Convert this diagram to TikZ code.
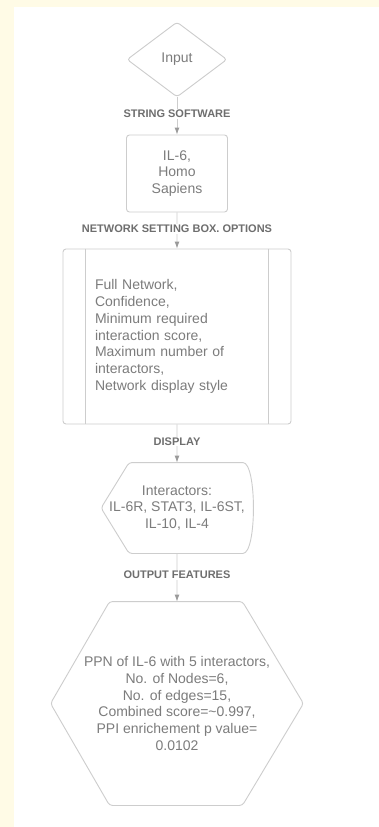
\documentclass[tikz,border=0pt]{standalone}
\usepackage{fontspec}
\setmainfont{Liberation Sans}
\usetikzlibrary{arrows.meta,shapes.geometric}
\definecolor{cream}{HTML}{FFFBE6}
\definecolor{linegray}{HTML}{CDCDCD}
\definecolor{textgray}{HTML}{7C7C7C}
\definecolor{labelgray}{HTML}{6E6E6E}
\definecolor{tipgray}{HTML}{9A9A9A}
\tikzset{%
flowbox/.style={draw=linegray,line width=0.9pt,rounded corners=3pt,font=\fontsize{14}{16.8}\selectfont,text=textgray,align=center},
inputnode/.style={flowbox,diamond,minimum width=100pt,minimum height=75pt,inner sep=0pt},
procnode/.style={flowbox,rectangle,minimum width=101pt,minimum height=77pt},
setnode/.style={flowbox,rectangle,minimum width=228pt,minimum height=175pt,text width=164pt,align=left},
blanknode/.style={flowbox,rectangle,draw=none,inner sep=0pt},
steplabel/.style={font=\fontsize{11}{13}\bfseries\selectfont,text=labelgray,fill=white,inner sep=1pt,pos=0.45},
outline/.style={draw=linegray,line width=0.9pt,rounded corners=3pt}
}

\begin{document}
\begin{tikzpicture}[x=1pt,y=-1pt,
    edge from parent/.style={draw=linegray,line width=0.9pt,
      -{Latex[length=7pt,width=5pt,color=tipgray]}},
    level 1/.style={level distance=114pt},
    level 2/.style={level distance=163pt},
    level 3/.style={level distance=171.5pt},
    level 4/.style={level distance=195.5pt}]

  % page and panel
  \fill[cream] (0,0) rectangle (379,827);
  \fill[white] (14,7) rectangle (379,827);

  \node[inputnode] (input) at (177,59.5) {Input}
    child {node[procnode] (string) {IL-6,\\Homo\\Sapiens}
      child {node[setnode] (setting) {Full Network,\\Confidence,\\Minimum required\\interaction score,\\Maximum number of\\interactors,\\Network display style}
        child {node[blanknode,minimum width=151pt,minimum height=90pt] (disp) {Interactors:\\IL-6R, STAT3, IL-6ST,\\IL-10, IL-4}
          child {node[blanknode,minimum width=252pt,minimum height=203pt] (result) {PPN of IL-6 with 5 interactors,\\No. of Nodes=6,\\No. of edges=15,\\Combined score=\textasciitilde0.997,\\PPI enrichement p value=\\0.0102}
            edge from parent
              node[steplabel] {OUTPUT FEATURES}
          }
          edge from parent
            node[steplabel] {DISPLAY}
        }
        edge from parent
          node[steplabel] {NETWORK SETTING BOX. OPTIONS}
      }
      edge from parent
        node[steplabel] {STRING SOFTWARE}
    };

  % side bars of the settings box
  \draw[linegray,line width=0.9pt] ([xshift=23pt]setting.north west) -- ([xshift=23pt]setting.south west);
  \draw[linegray,line width=0.9pt] ([xshift=-23pt]setting.north east) -- ([xshift=-23pt]setting.south east);

  % display shape
  \draw[outline] (disp.west) -- ([xshift=28pt]disp.north west) -- ([xshift=-13pt]disp.north east)
    .. controls ([xshift=4pt]disp.north east) and ([xshift=4pt]disp.south east) .. ([xshift=-13pt]disp.south east)
    -- ([xshift=28pt]disp.south west) -- cycle;

  % hexagon
  \draw[outline] (result.west) -- ([xshift=59pt]result.north west) -- ([xshift=-61pt]result.north east)
    -- (result.east) -- ([xshift=-61pt]result.south east) -- ([xshift=59pt]result.south west) -- cycle;

\end{tikzpicture}
\end{document}
